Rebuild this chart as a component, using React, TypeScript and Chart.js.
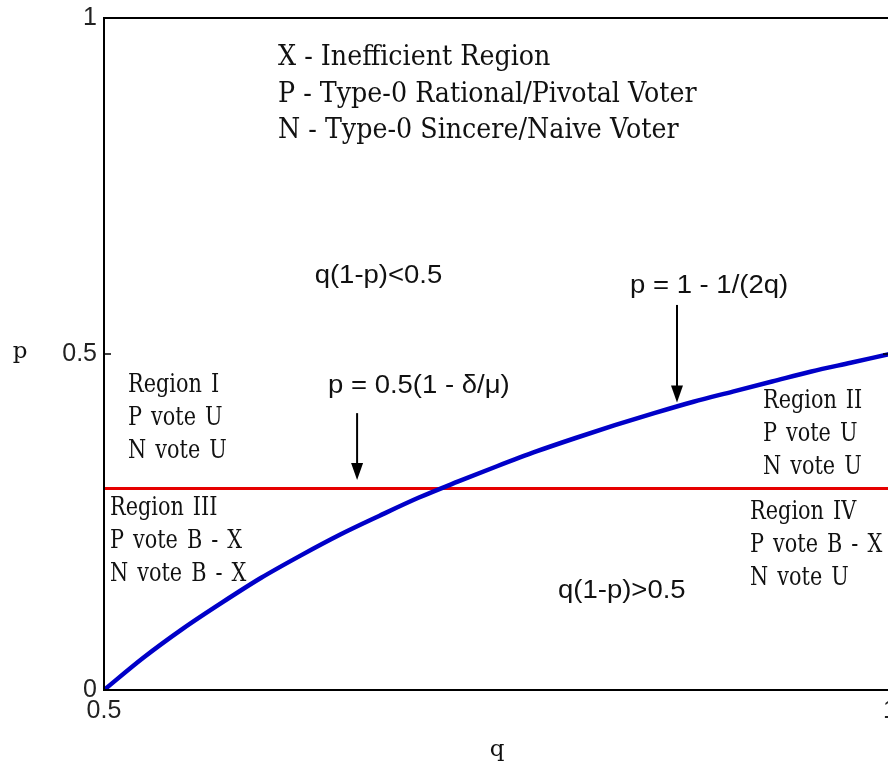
import React, { useEffect, useRef } from "react";
import { Chart, registerables } from "chart.js";

Chart.register(...registerables);

// ---- data ----
const Q_VALUES = [0.5, 0.525, 0.55, 0.575, 0.6, 0.625, 0.65, 0.675, 0.7, 0.725, 0.75, 0.775, 0.8, 0.825, 0.85, 0.875, 0.9, 0.925, 0.95, 0.975, 1.0];
const P_CURVE = [0, 0.048, 0.091, 0.13, 0.167, 0.2, 0.231, 0.259, 0.286, 0.31, 0.333, 0.355, 0.375, 0.394, 0.412, 0.429, 0.444, 0.459, 0.474, 0.487, 0.5];
const RED_Q = [0.5, 1.0];
const RED_P = [0.3, 0.3];
const Q_TICKS = [0.5, 1];
const P_TICKS = [0, 0.5, 1];
const Q_LABEL = "q";
const P_LABEL = "p";

const LEGEND_LINES = ["X - Inefficient Region", "P - Type-0 Rational/Pivotal Voter", "N - Type-0 Sincere/Naive Voter"];
const REGION_I = ["Region I", "P vote U", "N vote U"];
const REGION_II = ["Region II", "P vote U", "N vote U"];
const REGION_III = ["Region III", "P vote B - X", "N vote B - X"];
const REGION_IV = ["Region IV", "P vote B - X", "N vote U"];
const UPPER_COND = "q(1-p)<0.5";
const LOWER_COND = "q(1-p)>0.5";
const CURVE_NOTE = "p = 1 - 1/(2q)";
const LINE_NOTE = "p = 0.5(1 - \u03b4/\u03bc)";

// annotation anchors in data coordinates (q, p of first baseline)
type Block = { lines: string[]; q: number; p: number; kind: "legend" | "region" | "sans" };
const BLOCKS: Block[] = [
  { lines: LEGEND_LINES, q: 0.6107, p: 0.93, kind: "legend" },
  { lines: REGION_I, q: 0.5153, p: 0.4435, kind: "region" },
  { lines: REGION_II, q: 0.9192, p: 0.4196, kind: "region" },
  { lines: REGION_III, q: 0.5038, p: 0.2604, kind: "region" },
  { lines: REGION_IV, q: 0.911, p: 0.2545, kind: "region" },
  { lines: [UPPER_COND], q: 0.634, p: 0.606, kind: "sans" },
  { lines: [LOWER_COND], q: 0.7888, p: 0.137, kind: "sans" },
  { lines: [CURVE_NOTE], q: 0.8346, p: 0.591, kind: "sans" },
  { lines: [LINE_NOTE], q: 0.6425, p: 0.442, kind: "sans" },
];
const ARROWS = [
  { q: 0.8645, p0: 0.573, p1: 0.428 },
  { q: 0.661, p0: 0.412, p1: 0.3125 },
];

const STYLES = {
  legend: { font: '27px "DejaVu Serif"', sx: 0.94, lh: 36.5, ws: 0 },
  region: { font: '26px "DejaVu Serif"', sx: 0.8, lh: 33, ws: 3 },
  sans: { font: '25px "Liberation Sans"', sx: 1.1, lh: 30, ws: 0 },
};

function drawText(ctx: CanvasRenderingContext2D, text: string, x: number, y: number, font: string, sx: number, ws: number) {
  ctx.save();
  ctx.font = font;
  (ctx as any).wordSpacing = ws + "px";
  ctx.translate(x, y);
  ctx.scale(sx, 1);
  ctx.textAlign = "left";
  ctx.textBaseline = "alphabetic";
  ctx.fillText(text, 0, 0);
  ctx.restore();
}

const overlayPlugin = {
  id: "overlay",
  afterDatasetsDraw(chart: any) {
    const ctx: CanvasRenderingContext2D = chart.ctx;
    const xs = chart.scales.x;
    const ys = chart.scales.y;
    const { left, right, top, bottom } = chart.chartArea;
    ctx.save();
    // frame
    ctx.strokeStyle = "#000";
    ctx.lineWidth = 2;
    ctx.strokeRect(left, top, right - left, bottom - top);
    // inward ticks
    ctx.lineWidth = 1.5;
    P_TICKS.forEach((v) => {
      const y = ys.getPixelForValue(v);
      ctx.beginPath();
      ctx.moveTo(left, y);
      ctx.lineTo(left + 7, y);
      ctx.moveTo(right, y);
      ctx.lineTo(right - 7, y);
      ctx.stroke();
    });
    // arrows
    ctx.fillStyle = "#000";
    ARROWS.forEach((a) => {
      const x = xs.getPixelForValue(a.q);
      const y0 = ys.getPixelForValue(a.p0);
      const y1 = ys.getPixelForValue(a.p1);
      ctx.lineWidth = 2;
      ctx.beginPath();
      ctx.moveTo(x, y0);
      ctx.lineTo(x, y1 - 14);
      ctx.stroke();
      ctx.beginPath();
      ctx.moveTo(x - 6, y1 - 17);
      ctx.lineTo(x + 6, y1 - 17);
      ctx.lineTo(x, y1);
      ctx.closePath();
      ctx.fill();
    });
    // text blocks
    ctx.fillStyle = "#111";
    BLOCKS.forEach((b) => {
      const st = STYLES[b.kind];
      const x = xs.getPixelForValue(b.q);
      const y = ys.getPixelForValue(b.p);
      b.lines.forEach((line, i) => drawText(ctx, line, x, y + i * st.lh, st.font, st.sx, st.ws));
    });
    // axis labels
    ctx.save();
    ctx.font = '23px "DejaVu Serif"';
    ctx.textAlign = "center";
    ctx.textBaseline = "alphabetic";
    ctx.fillText(Q_LABEL, (left + right) / 2, bottom + 66);
    ctx.fillText(P_LABEL, left - 84, ys.getPixelForValue(0.5) + 4);
    ctx.restore();
    ctx.restore();
  },
};

export default function App() {
  const ref = useRef<HTMLCanvasElement | null>(null);
  useEffect(() => {
    if (!ref.current) return;
    const chart = new Chart(ref.current, {
      type: "line",
      data: {
        datasets: [
          {
            data: Q_VALUES.map((q, i) => ({ x: q, y: P_CURVE[i] })),
            borderColor: "#0000C8",
            borderWidth: 4.5,
            pointRadius: 0,
            cubicInterpolationMode: "monotone",
            fill: false,
          },
          {
            data: RED_Q.map((q, i) => ({ x: q, y: RED_P[i] })),
            borderColor: "#E60000",
            borderWidth: 3,
            pointRadius: 0,
            fill: false,
          },
        ],
      },
      options: {
        animation: false,
        responsive: false,
        devicePixelRatio: 1,
        layout: { padding: { top: 18, right: 10, left: 0, bottom: 0 } },
        plugins: { legend: { display: false }, tooltip: { enabled: false } },
        scales: {
          x: {
            type: "linear",
            min: 0.5,
            max: 1,
            grid: { display: false, drawTicks: false },
            border: { display: false },
            afterBuildTicks: (s: any) => {
              s.ticks = Q_TICKS.map((v) => ({ value: v }));
            },
            afterFit: (s: any) => {
              s.height = 82;
              s.paddingLeft = 0;
              s.paddingRight = 0;
              s.paddingTop = 0;
              s.paddingBottom = 0;
            },
            ticks: {
              padding: 6,
              color: "#222",
              font: { family: "Liberation Sans", size: 25 },
              maxRotation: 0,
              autoSkip: false,
              callback: (v: any) => String(v),
            },
          },
          y: {
            type: "linear",
            min: 0,
            max: 1,
            grid: { display: false, drawTicks: false },
            border: { display: false },
            afterBuildTicks: (s: any) => {
              s.ticks = P_TICKS.map((v) => ({ value: v }));
            },
            afterFit: (s: any) => {
              s.width = 104;
              s.paddingLeft = 0;
              s.paddingRight = 0;
              s.paddingTop = 0;
              s.paddingBottom = 0;
            },
            ticks: {
              padding: 7,
              color: "#222",
              font: { family: "Liberation Sans", size: 25 },
              autoSkip: false,
              callback: (v: any) => String(v),
            },
          },
        },
      },
      plugins: [overlayPlugin],
    } as any);
    return () => chart.destroy();
  }, []);
  return (
    <div style={{ position: "absolute", left: 0, top: 0, width: 888, height: 772, overflow: "hidden", background: "#fff" }}>
      <canvas ref={ref} width={900} height={772} style={{ display: "block", width: 900, height: 772 }} />
    </div>
  );
}
